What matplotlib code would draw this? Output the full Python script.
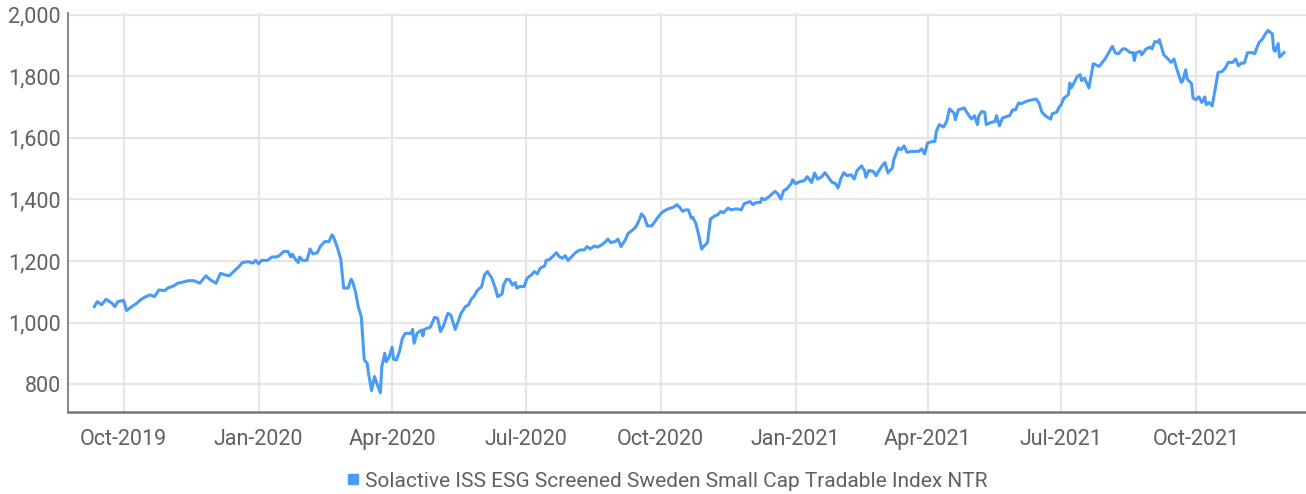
import matplotlib
matplotlib.use("Agg")
import matplotlib.pyplot as plt
import matplotlib.dates as mdates
from matplotlib.lines import Line2D
import pandas as pd

# index level (net total return), sampled every few days
dates = [
    "2019-09-11", "2019-09-13", "2019-09-16", "2019-09-19", "2019-09-23", "2019-09-25", "2019-09-27",
    "2019-10-01", "2019-10-03", "2019-10-06", "2019-10-10", "2019-10-13", "2019-10-16", "2019-10-19",
    "2019-10-22", "2019-10-25", "2019-10-29", "2019-10-31", "2019-11-04", "2019-11-07", "2019-11-10",
    "2019-11-14", "2019-11-18", "2019-11-22", "2019-11-26", "2019-11-29", "2019-12-03", "2019-12-06",
    "2019-12-09", "2019-12-12", "2019-12-15", "2019-12-18", "2019-12-21", "2019-12-25", "2019-12-28",
    "2019-12-30", "2020-01-01", "2020-01-03", "2020-01-07", "2020-01-10", "2020-01-13", "2020-01-15",
    "2020-01-18", "2020-01-21", "2020-01-23", "2020-01-24", "2020-01-26", "2020-01-28", "2020-01-29",
    "2020-01-31", "2020-02-03", "2020-02-05", "2020-02-07", "2020-02-10", "2020-02-12", "2020-02-15",
    "2020-02-18", "2020-02-20", "2020-02-21", "2020-02-24", "2020-02-26", "2020-02-28", "2020-03-02",
    "2020-03-04", "2020-03-05", "2020-03-07", "2020-03-09", "2020-03-11", "2020-03-13", "2020-03-15",
    "2020-03-16", "2020-03-18", "2020-03-20", "2020-03-22", "2020-03-24", "2020-03-25", "2020-03-27",
    "2020-03-28", "2020-03-30", "2020-04-01", "2020-04-02", "2020-04-04", "2020-04-06", "2020-04-08",
    "2020-04-10", "2020-04-14", "2020-04-15", "2020-04-16", "2020-04-18", "2020-04-21", "2020-04-22",
    "2020-04-23", "2020-04-27", "2020-04-30", "2020-05-02", "2020-05-04", "2020-05-06", "2020-05-09",
    "2020-05-11", "2020-05-14", "2020-05-16", "2020-05-18", "2020-05-21", "2020-05-23", "2020-05-25",
    "2020-05-27", "2020-05-29", "2020-06-01", "2020-06-03", "2020-06-05", "2020-06-08", "2020-06-10",
    "2020-06-12", "2020-06-15", "2020-06-16", "2020-06-18", "2020-06-20", "2020-06-22", "2020-06-24",
    "2020-06-25", "2020-06-27", "2020-06-30", "2020-07-02", "2020-07-05", "2020-07-07", "2020-07-09",
    "2020-07-11", "2020-07-14", "2020-07-15", "2020-07-17", "2020-07-20", "2020-07-22", "2020-07-24",
    "2020-07-26", "2020-07-28", "2020-07-30", "2020-08-02", "2020-08-04", "2020-08-07", "2020-08-10",
    "2020-08-12", "2020-08-14", "2020-08-17", "2020-08-19", "2020-08-22", "2020-08-24", "2020-08-26",
    "2020-08-28", "2020-08-31", "2020-09-02", "2020-09-04", "2020-09-07", "2020-09-09", "2020-09-12",
    "2020-09-14", "2020-09-16", "2020-09-18", "2020-09-20", "2020-09-22", "2020-09-25", "2020-09-28",
    "2020-10-01", "2020-10-03", "2020-10-06", "2020-10-10", "2020-10-12", "2020-10-14", "2020-10-16",
    "2020-10-18", "2020-10-20", "2020-10-22", "2020-10-23", "2020-10-25", "2020-10-27", "2020-10-29",
    "2020-10-30", "2020-11-02", "2020-11-04", "2020-11-07", "2020-11-09", "2020-11-11", "2020-11-13",
    "2020-11-16", "2020-11-18", "2020-11-21", "2020-11-23", "2020-11-25", "2020-11-27", "2020-12-01",
    "2020-12-03", "2020-12-05", "2020-12-08", "2020-12-09", "2020-12-11", "2020-12-14", "2020-12-16",
    "2020-12-18", "2020-12-20", "2020-12-22", "2020-12-24", "2020-12-26", "2020-12-29", "2020-12-30",
    "2021-01-01", "2021-01-04", "2021-01-07", "2021-01-09", "2021-01-12", "2021-01-14", "2021-01-16",
    "2021-01-19", "2021-01-21", "2021-01-23", "2021-01-26", "2021-01-28", "2021-01-30", "2021-02-01",
    "2021-02-03", "2021-02-05", "2021-02-08", "2021-02-10", "2021-02-12", "2021-02-15", "2021-02-17",
    "2021-02-18", "2021-02-20", "2021-02-23", "2021-02-25", "2021-02-26", "2021-03-01", "2021-03-03",
    "2021-03-05", "2021-03-08", "2021-03-09", "2021-03-12", "2021-03-14", "2021-03-16", "2021-03-18",
    "2021-03-21", "2021-03-26", "2021-03-28", "2021-03-30", "2021-04-01", "2021-04-04", "2021-04-06",
    "2021-04-07", "2021-04-09", "2021-04-12", "2021-04-14", "2021-04-16", "2021-04-19", "2021-04-20",
    "2021-04-22", "2021-04-26", "2021-04-28", "2021-05-01", "2021-05-03", "2021-05-05", "2021-05-06",
    "2021-05-08", "2021-05-10", "2021-05-11", "2021-05-14", "2021-05-17", "2021-05-18", "2021-05-20",
    "2021-05-22", "2021-05-24", "2021-05-27", "2021-05-29", "2021-05-31", "2021-06-02", "2021-06-04",
    "2021-06-07", "2021-06-09", "2021-06-12", "2021-06-14", "2021-06-16", "2021-06-18", "2021-06-21",
    "2021-06-24", "2021-06-25", "2021-06-28", "2021-06-30", "2021-07-01", "2021-07-03", "2021-07-06",
    "2021-07-07", "2021-07-08", "2021-07-10", "2021-07-12", "2021-07-14", "2021-07-15", "2021-07-17",
    "2021-07-20", "2021-07-23", "2021-07-27", "2021-07-31", "2021-08-03", "2021-08-05", "2021-08-07",
    "2021-08-09", "2021-08-12", "2021-08-14", "2021-08-17", "2021-08-19", "2021-08-20", "2021-08-21",
    "2021-08-24", "2021-08-25", "2021-08-28", "2021-08-31", "2021-09-01", "2021-09-03", "2021-09-05",
    "2021-09-06", "2021-09-09", "2021-09-12", "2021-09-14", "2021-09-16", "2021-09-17", "2021-09-19",
    "2021-09-21", "2021-09-22", "2021-09-24", "2021-09-25", "2021-09-28", "2021-09-29", "2021-10-01",
    "2021-10-03", "2021-10-05", "2021-10-07", "2021-10-08", "2021-10-10", "2021-10-12", "2021-10-14",
    "2021-10-16", "2021-10-19", "2021-10-21", "2021-10-23", "2021-10-26", "2021-10-28", "2021-10-30",
    "2021-11-01", "2021-11-03", "2021-11-05", "2021-11-08", "2021-11-10", "2021-11-11", "2021-11-13",
    "2021-11-15", "2021-11-17", "2021-11-19", "2021-11-22", "2021-11-23", "2021-11-24", "2021-11-26",
    "2021-11-27", "2021-11-30",
]
values = [
    1052, 1068, 1058, 1076, 1063, 1052, 1068,
    1072, 1039, 1050, 1063, 1076, 1084, 1090,
    1084, 1106, 1104, 1112, 1119, 1128, 1131,
    1136, 1136, 1128, 1152, 1139, 1128, 1160,
    1155, 1152, 1166, 1179, 1195, 1198, 1193,
    1202, 1191, 1202, 1202, 1213, 1213, 1217,
    1231, 1231, 1213, 1222, 1206, 1195, 1213,
    1202, 1202, 1239, 1223, 1227, 1247, 1263,
    1263, 1285, 1279, 1239, 1206, 1112, 1112,
    1141, 1133, 1101, 1050, 1019, 879, 868,
    833, 779, 825, 797, 772, 857, 900,
    873, 888, 920, 881, 879, 906, 949,
    965, 965, 978, 933, 965, 976, 957,
    978, 985, 1017, 1014, 971, 989, 1030,
    1025, 978, 1003, 1030, 1052, 1057, 1076,
    1087, 1104, 1117, 1155, 1166, 1144, 1117,
    1084, 1093, 1122, 1141, 1139, 1122, 1130,
    1112, 1117, 1117, 1144, 1155, 1166, 1158,
    1177, 1184, 1202, 1204, 1217, 1227, 1214,
    1209, 1217, 1202, 1217, 1227, 1236, 1236,
    1247, 1239, 1249, 1245, 1253, 1260, 1271,
    1260, 1263, 1271, 1247, 1269, 1290, 1301,
    1310, 1328, 1353, 1342, 1314, 1314, 1334,
    1353, 1361, 1369, 1375, 1383, 1375, 1361,
    1366, 1366, 1339, 1342, 1323, 1285, 1239,
    1245, 1260, 1336, 1347, 1350, 1361, 1357,
    1372, 1366, 1369, 1369, 1366, 1386, 1393,
    1383, 1390, 1390, 1404, 1399, 1409, 1418,
    1426, 1418, 1401, 1429, 1434, 1451, 1464,
    1451, 1458, 1461, 1474, 1455, 1486, 1466,
    1474, 1487, 1474, 1455, 1453, 1437, 1469,
    1487, 1477, 1480, 1466, 1494, 1509, 1494,
    1472, 1494, 1491, 1477, 1487, 1509, 1520,
    1486, 1502, 1529, 1567, 1561, 1574, 1553,
    1556, 1556, 1564, 1548, 1583, 1588, 1588,
    1621, 1643, 1635, 1653, 1694, 1681, 1659,
    1691, 1697, 1681, 1661, 1672, 1643, 1672,
    1686, 1683, 1643, 1650, 1653, 1672, 1639,
    1664, 1668, 1672, 1691, 1691, 1713, 1711,
    1718, 1721, 1724, 1726, 1713, 1683, 1669,
    1661, 1678, 1683, 1702, 1707, 1729, 1740,
    1778, 1762, 1780, 1799, 1805, 1786, 1794,
    1762, 1841, 1832, 1856, 1881, 1897, 1876,
    1873, 1889, 1889, 1877, 1877, 1851, 1876,
    1881, 1870, 1889, 1895, 1889, 1913, 1910,
    1919, 1870, 1856, 1845, 1856, 1838, 1808,
    1780, 1786, 1821, 1791, 1776, 1729, 1724,
    1733, 1715, 1733, 1707, 1715, 1704, 1756,
    1812, 1816, 1827, 1845, 1845, 1856, 1834,
    1843, 1843, 1876, 1877, 1873, 1886, 1910,
    1919, 1935, 1949, 1938, 1886, 1881, 1906,
    1862, 1877,
]
series_name = "Solactive ISS ESG Screened Sweden Small Cap Tradable Index NTR"
y_ticks = [800, 1000, 1200, 1400, 1600, 1800, 2000]

plt.rcParams['font.family'] = ['Roboto', 'DejaVu Sans']

line_color = '#4a9bf6'
text_color = '#606060'

fig = plt.figure(figsize=(13.06, 4.94), dpi=100)
ax = fig.add_axes([0.052, 0.165, 0.948, 0.809])

x = pd.to_datetime(dates)
ax.plot(x, values, color=line_color, linewidth=2.2, solid_joinstyle='round', zorder=3)

ax.set_xlim(pd.Timestamp("2019-08-24"), pd.Timestamp("2021-12-15"))
ax.set_ylim(708, 2006)
ax.set_yticks(y_ticks)
ax.yaxis.set_major_formatter(matplotlib.ticker.FuncFormatter(lambda v, p: f"{int(v):,}"))
ax.xaxis.set_major_locator(mdates.MonthLocator(bymonth=[1, 4, 7, 10]))
ax.xaxis.set_major_formatter(mdates.DateFormatter('%b-%Y'))

ax.grid(True, color='#e6e6e6', linewidth=1.6)
ax.set_axisbelow(True)
ax.tick_params(axis='both', length=0, labelsize=15.5, colors=text_color)
ax.tick_params(axis='x', pad=12)
ax.tick_params(axis='y', pad=5)

for side in ['top', 'right']:
    ax.spines[side].set_visible(False)
ax.spines['left'].set_color('#8a8a8a')
ax.spines['left'].set_linewidth(1.5)
ax.spines['bottom'].set_color('#777777')
ax.spines['bottom'].set_linewidth(1.8)

handle = Line2D([], [], marker='s', color=line_color, linestyle='none', markersize=7.5)
fig.legend([handle], [series_name], loc='center', bbox_to_anchor=(0.511, 0.026),
           frameon=False, handlelength=0.6, handletextpad=0.3, fontsize=15,
           labelcolor=text_color, borderaxespad=0)

fig.savefig("out.png", dpi=100)
